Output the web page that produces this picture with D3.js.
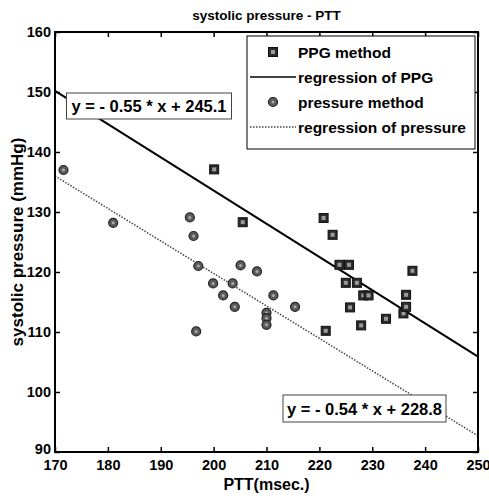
<!DOCTYPE html>
<html><head><meta charset="utf-8">
<script src="https://cdn.jsdelivr.net/npm/d3@7/dist/d3.min.js"></script>
<style>body{margin:0;background:#fff}svg{display:block}text{font-family:"Liberation Sans",Arial,sans-serif;font-weight:bold;fill:#000}</style>
</head><body><div id="chart"></div>
<script>
const ppgX = [200.1,205.5,220.8,222.5,223.8,225.6,225.0,227.1,228.3,229.3,225.8,227.9,221.2,232.6,235.9,236.4,236.4,237.6];
const ppgY = [137.1,128.3,129.0,126.2,121.2,121.2,118.2,118.2,116.1,116.1,114.1,111.1,110.2,112.2,113.1,114.2,116.2,120.2];
const presX = [171.6,181.0,195.5,196.2,197.1,196.7,199.9,201.8,203.6,204.0,205.1,208.2,210.0,210.0,210.0,211.3,215.4];
const presY = [137.0,128.2,129.1,126.0,121.0,110.1,118.1,116.1,118.1,114.2,121.1,120.1,113.2,112.3,111.2,116.1,114.2];
const regPPG = [[170,150.2],[250,105.9]];
const regPres = [[170,136.0],[250,92.7]];
const xTicks = [170,180,190,200,210,220,230,240,250];
const yTicks = [90,100,110,120,130,140,150,160];
const legendLabels = ["PPG method","regression of PPG","pressure method","regression of pressure"];
const eqPPG = "y = - 0.55 * x + 245.1";
const eqPres = "y = - 0.54 * x + 228.8";
const titleText = "systolic pressure - PTT";
const xLabel = "PTT(msec.)";
const yLabel = "systolic pressure (mmHg)";

const W = 489, H = 496;
const m = {l:55, r:11, t:32, b:44};
const svg = d3.select("#chart").append("svg").attr("width",W).attr("height",H);
const x = d3.scaleLinear().domain([170,250]).range([m.l, W-m.r]);
const y = d3.scaleLinear().domain([90,160]).range([H-m.b, m.t]);

const g = svg.append("g");
const axB = g.append("g").attr("transform",`translate(0,${y(90)})`).call(d3.axisBottom(x).tickValues(xTicks).tickSize(-5).tickPadding(8).tickFormat(d3.format("d")));
const axT = g.append("g").attr("transform",`translate(0,${y(160)})`).call(d3.axisTop(x).tickValues(xTicks).tickSize(-5).tickFormat(""));
const axL = g.append("g").attr("transform",`translate(${x(170)},0)`).call(d3.axisLeft(y).tickValues(yTicks).tickSize(-5).tickPadding(4).tickFormat(d3.format("d")));
const axR = g.append("g").attr("transform",`translate(${x(250)},0)`).call(d3.axisRight(y).tickValues(yTicks).tickSize(-5).tickFormat(""));
[axB,axT,axL,axR].forEach(a=>{a.select(".domain").remove();a.selectAll("line").attr("stroke","#000").attr("stroke-width",1.5);a.selectAll("text").style("font-size","14.5px").attr("fill","#000");});
axL.selectAll("text").filter(d=>d===90).attr("dy","0.1em");

const line = d3.line().x(d=>x(d[0])).y(d=>y(d[1]));
svg.append("path").datum(regPPG).attr("d",line).attr("fill","none").attr("stroke","#000").attr("stroke-width",2);
svg.append("path").datum(regPres).attr("d",line).attr("fill","none").attr("stroke","#444").attr("stroke-width",1.5).attr("stroke-dasharray","1.5,1.5");

svg.append("rect").attr("x",x(170)).attr("y",y(160)).attr("width",x(250)-x(170)).attr("height",y(90)-y(160)).attr("fill","none").attr("stroke","#000").attr("stroke-width",2);

function drawSquare(sel, cx, cy){
  sel.append("rect").attr("x",cx-4.5).attr("y",cy-4.5).attr("width",9).attr("height",9).attr("fill","#2a2a2a").attr("stroke","#111").attr("stroke-width",1);
  sel.append("rect").attr("x",cx-2).attr("y",cy-2).attr("width",4).attr("height",4).attr("fill","#9a9a9a");
}
function drawCircle(sel, cx, cy){
  sel.append("circle").attr("cx",cx).attr("cy",cy).attr("r",4.5).attr("fill","#5a5a5a").attr("stroke","#222").attr("stroke-width",1.2);
  sel.append("circle").attr("cx",cx).attr("cy",cy).attr("r",1.5).attr("fill","#aaa");
}
const pts = svg.append("g");
presX.forEach((v,i)=>drawCircle(pts, x(v), y(presY[i])));
ppgX.forEach((v,i)=>drawSquare(pts, x(v), y(ppgY[i])));

function eqBox(x0,y0,w,h,t){
  svg.append("rect").attr("x",x0).attr("y",y0).attr("width",w).attr("height",h).attr("fill","#fff").attr("stroke","#444").attr("stroke-width",1);
  svg.append("text").attr("x",x0+w/2).attr("y",y0+h/2+6).attr("text-anchor","middle").style("font-size","16.5px").text(t);
}
eqBox(66.5,93,165,26,eqPPG);
eqBox(283,395,163,27,eqPres);

const lg = svg.append("g");
lg.append("rect").attr("x",247).attr("y",36).attr("width",228).attr("height",113).attr("fill","#fff").attr("stroke","#000").attr("stroke-width",1);
const rowY = [52,77,102,127];
drawSquare(lg, 273, rowY[0]);
lg.append("line").attr("x1",250).attr("x2",296).attr("y1",rowY[1]).attr("y2",rowY[1]).attr("stroke","#000").attr("stroke-width",1.5);
drawCircle(lg, 273, rowY[2]);
lg.append("line").attr("x1",250).attr("x2",296).attr("y1",rowY[3]).attr("y2",rowY[3]).attr("stroke","#444").attr("stroke-width",1.5).attr("stroke-dasharray","1.5,1.5");
legendLabels.forEach((t,i)=>lg.append("text").attr("x",298).attr("y",rowY[i]+5.5).style("font-size","15.5px").text(t));

svg.append("text").attr("x",(x(170)+x(250))/2).attr("y",20).attr("text-anchor","middle").style("font-size","13.5px").text(titleText);
svg.append("text").attr("x",(x(170)+x(250))/2).attr("y",490).attr("text-anchor","middle").style("font-size","16px").text(xLabel);
svg.append("text").attr("transform",`translate(23,${(y(90)+y(160))/2}) rotate(-90)`).attr("text-anchor","middle").style("font-size","17px").text(yLabel);
</script></body></html>
